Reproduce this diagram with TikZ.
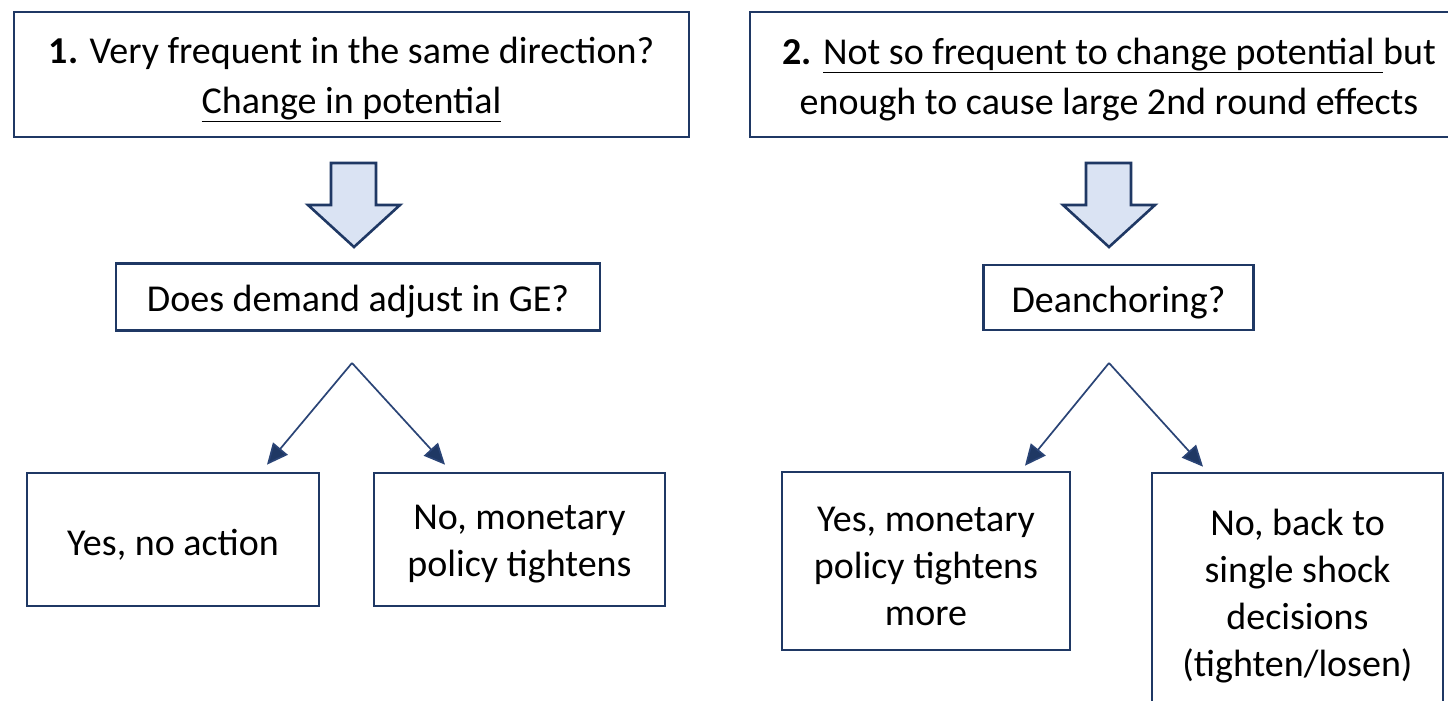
\documentclass[tikz,border=0pt]{standalone}
\usepackage{fontspec}
\setmainfont{Carlito}
\usetikzlibrary{arrows.meta,calc}
\definecolor{navy}{HTML}{1F3864}
\definecolor{conn}{HTML}{2A4476}
\definecolor{arrfill}{HTML}{DAE3F3}
\newcommand{\dl}[1]{\raisebox{-5pt}[\height][\depth]{#1}}
\begin{document}
\begin{tikzpicture}[x=1pt,y=1pt,
  box/.style={draw=navy,line width=2.6pt,fill=white,inner sep=0pt,align=center,
    font=\fontsize{38}{47}\selectfont},
  topbox/.style={box,font=\fontsize{38}{50}\selectfont},
  blockarrow/.style={draw=navy,line width=2.6pt,fill=arrfill,line join=miter},
  conn/.style={draw=conn,line width=1.7pt,-{Triangle[length=21pt,width=19pt,fill=navy]}}
]
\clip (0,0) rectangle (1448,701);
\fill[white] (0,0) rectangle (1448,701);

% top boxes
\node[topbox,minimum width=675,minimum height=125] (b1) at (351.5,626.5)
  {\dl{\textbf{1.} Very frequent in the same direction?}\\\dl{\underline{Change in potential}}};
\node[topbox,minimum width=718,minimum height=125] (b2) at (1109,626.5)
  {\dl{\textbf{2.} \underline{Not so frequent to change potential\ }but}\\\dl{enough to cause large 2nd round effects}};

% block arrows
\filldraw[blockarrow] (331,538) -- (376,538) -- (376,496) -- (400,496) -- (354,454) -- (308,496) -- (331,496) -- cycle;
\filldraw[blockarrow] (1086,538) -- (1131,538) -- (1131,496) -- (1155,496) -- (1109,454) -- (1063,496) -- (1086,496) -- cycle;

% questions
\node[box,minimum width=484,minimum height=67] (ge) at (358,404) {\dl{Does demand adjust in GE?}};
\node[box,minimum width=270,minimum height=65] (de) at (1118.5,403.5) {\dl{Deanchoring?}};

% answers
\node[box,minimum width=292,minimum height=133] (yes1) at (173,161.5) {\dl{Yes, no action}};
\node[box,minimum width=291,minimum height=133] (no1) at (519.5,161.5) {\dl{No, monetary}\\\dl{policy tightens}};
\node[box,minimum width=288,minimum height=178] (yes2) at (926,140) {\dl{Yes, monetary}\\\dl{policy tightens}\\\dl{more}};
\node[box,minimum width=291,minimum height=237] (no2) at (1297.5,109.5) {\dl{No, back to}\\\dl{single shock}\\\dl{decisions}\\\dl{(tighten/losen)}};

% connectors
\coordinate (apL) at (352,338);
\coordinate (apR) at (1109,338);
\coordinate (tYes1) at ($(yes1.north)+(94,7)$);
\coordinate (tNo1) at ($(no1.north)+(-74.5,7)$);
\coordinate (tYes2) at ($(yes2.north)+(99,5)$);
\coordinate (tNo2) at ($(no2.north)+(-94.5,5)$);
\draw[conn] (apL) -- (tYes1);
\draw[conn] (apL) -- (tNo1);
\draw[conn] (apR) -- (tYes2);
\draw[conn] (apR) -- (tNo2);
\end{tikzpicture}
\end{document}
